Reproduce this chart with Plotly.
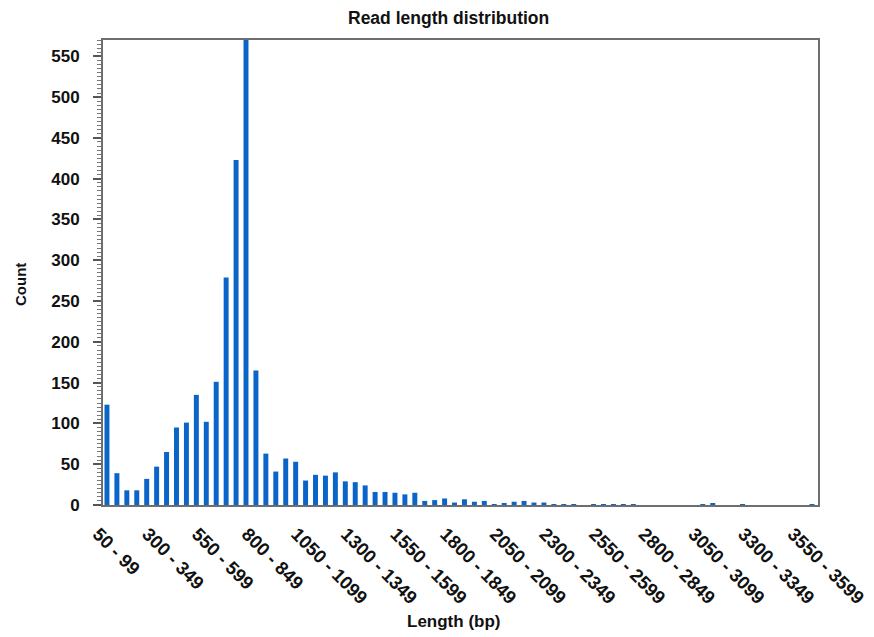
import plotly.graph_objects as go

bin_starts = list(range(50, 3650, 50))  # 72 bins: 50-99 ... 3600-3649
categories = [f"{s} - {s + 49}" for s in bin_starts]

counts = [
    123, 39, 18, 18, 32, 47, 65, 95, 101, 135,
    102, 151, 279, 423, 570, 165, 63, 41, 57, 53,
    30, 37, 36, 40, 29, 28, 24, 16, 16, 15,
    13, 15, 5, 6, 8, 3, 7, 4, 5, 1,
    2, 4, 5, 3, 3, 1, 1, 1, 0, 1,
    1, 1, 1, 1, 0, 0, 0, 0, 0, 0,
    1, 2, 0, 0, 1, 0, 0, 0, 0, 0,
    0, 1,
]

tick_labels = categories[0:71:5]
y_ticks = list(range(0, 600, 50))

FONT = "Liberation Sans, Arial, sans-serif"
OFF = 8  # default page body margin
W, H = 874 - OFF, 637 - OFF
L, R, T, B = 103 - OFF, 56, 40 - OFF, 132
PW, PH = W - L - R, H - T - B


def px_x(x):  # page x -> paper fraction
    return (x - OFF - L) / PW


def px_y(y):  # page y -> paper fraction
    return (H - B - (y - OFF)) / PH


fig = go.Figure(
    go.Bar(
        x=categories,
        y=counts,
        width=0.5,
        marker=dict(color="#0b64c8", line=dict(width=0)),
    )
)

fig.update_layout(
    width=W,
    height=H,
    margin=dict(l=L, r=R, t=T, b=B),
    paper_bgcolor="white",
    plot_bgcolor="white",
    showlegend=False,
    font=dict(family=FONT, color="#111"),
    annotations=[
        dict(
            text="<b>Read length distribution</b>",
            xref="paper", yref="paper",
            x=px_x(448), y=px_y(18),
            xanchor="center", yanchor="middle",
            showarrow=False,
            font=dict(family=FONT, size=17.5, color="#111"),
        ),
        dict(
            text="<b>Length (bp)</b>",
            xref="paper", yref="paper",
            x=px_x(453), y=px_y(621),
            xanchor="center", yanchor="middle",
            showarrow=False,
            font=dict(family=FONT, size=17, color="#111"),
        ),
        dict(
            text="<b>Count</b>",
            xref="paper", yref="paper",
            x=px_x(20), y=px_y(285),
            xanchor="center", yanchor="middle",
            textangle=-90,
            showarrow=False,
            font=dict(family=FONT, size=15, color="#111"),
        ),
    ],
)

fig.update_xaxes(
    type="category",
    range=[-0.4, 71.6],
    automargin=False,
    tickmode="array",
    tickvals=tick_labels,
    ticktext=[f"<b>{t}</b>" for t in tick_labels],
    tickangle=45,
    tickfont=dict(family=FONT, size=18.5, color="#111"),
    ticklabelshift=-9,
    ticklabelstandoff=9,
    ticks="",
    showgrid=False,
    showline=True,
    linecolor="#6e6e6e",
    linewidth=2,
    mirror=True,
)

fig.update_yaxes(
    range=[0, 570],
    automargin=False,
    tickmode="array",
    tickvals=y_ticks,
    ticktext=[f"<b>{v}</b>" for v in y_ticks],
    tickfont=dict(family=FONT, size=17, color="#111"),
    ticks="outside",
    ticklen=8,
    tickwidth=1.5,
    tickcolor="#555",
    ticklabelstandoff=10,
    minor=dict(dtick=5, ticks="outside", ticklen=4, tickcolor="#777", tickwidth=1, showgrid=False),
    showgrid=False,
    zeroline=False,
    showline=True,
    linecolor="#6e6e6e",
    linewidth=2,
    mirror=True,
)

fig.write_html("out.html")
